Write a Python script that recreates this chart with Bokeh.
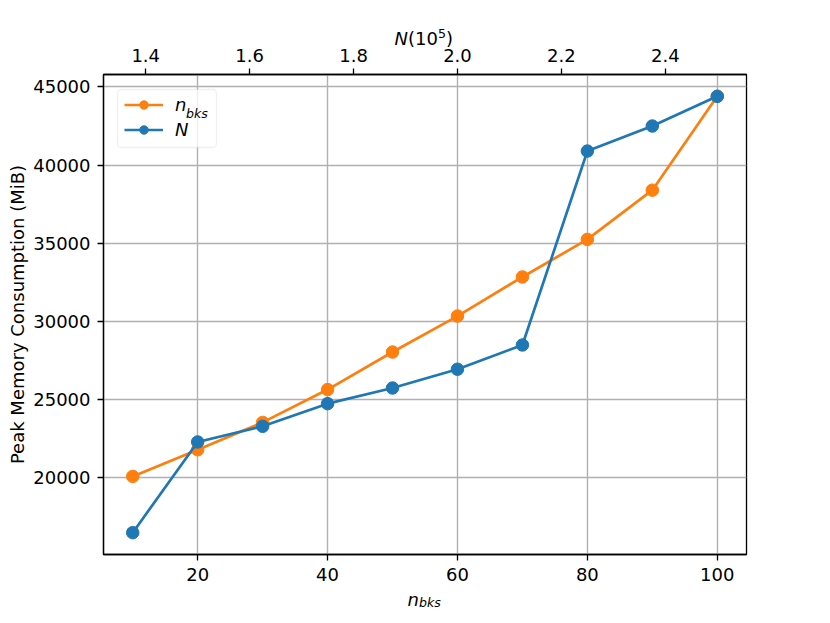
from bokeh.plotting import figure
from bokeh.models import Range1d, LinearAxis, FixedTicker, Label, BoxAnnotation
from bokeh.embed import file_html
from bokeh.resources import INLINE

# ---- data ----
n_bks = [10, 20, 30, 40, 50, 60, 70, 80, 90, 100]
mem_nbks = [20100, 21800, 23550, 25650, 28050, 30350, 32850, 35250, 38400, 44400]
N_1e5 = [1.375, 1.5, 1.625, 1.75, 1.875, 2.0, 2.125, 2.25, 2.375, 2.5]
mem_N = [16500, 22300, 23300, 24750, 25750, 26950, 28500, 40900, 42500, 44400]

bottom_ticks = [20, 40, 60, 80, 100]
top_ticks = [1.4, 1.6, 1.8, 2.0, 2.2, 2.4]
top_tick_labels = ["1.4", "1.6", "1.8", "2.0", "2.2", "2.4"]
y_ticks = [20000, 25000, 30000, 35000, 40000, 45000]

ORANGE = "#ff7f0e"
BLUE = "#1f77b4"
FONT = "DejaVu Sans"


def padded(vals, frac=0.05):
    lo, hi = min(vals), max(vals)
    d = (hi - lo) * frac
    return lo - d, hi + d


x0, x1 = padded(n_bks)
t0, t1 = padded(N_1e5)
y0, y1 = padded(mem_nbks + mem_N)

p = figure(width=814, height=620,
           x_range=Range1d(x0, x1), y_range=Range1d(y0, y1),
           output_backend="svg", toolbar_location=None,
           min_border_left=103, min_border_right=68,
           min_border_top=74, min_border_bottom=66)
p.extra_x_ranges = {"top": Range1d(t0, t1)}

top_axis = LinearAxis(x_range_name="top", ticker=FixedTicker(ticks=top_ticks))
top_axis.major_label_overrides = {t: s for t, s in zip(top_ticks, top_tick_labels)}
p.add_layout(top_axis, "above")

bottom_axis = p.below[0]
left_axis = p.left[0]
bottom_axis.ticker = FixedTicker(ticks=bottom_ticks)
left_axis.ticker = FixedTicker(ticks=y_ticks)

for ax in [bottom_axis, left_axis, top_axis]:
    ax.major_label_text_font = FONT
    ax.major_label_text_font_size = "18px"
    ax.major_label_text_color = "black"
    ax.major_tick_out = 6
    ax.major_tick_in = 0
    ax.major_tick_line_width = 1.3
    ax.major_tick_line_color = "black"
    ax.minor_tick_line_color = None
    ax.axis_line_color = "black"
    ax.axis_line_width = 1.3
    ax.major_label_standoff = 7

left_axis.axis_label = "Peak Memory Consumption (MiB)"
left_axis.axis_label_text_font = FONT
left_axis.axis_label_text_font_size = "18px"
left_axis.axis_label_text_font_style = "normal"
left_axis.axis_label_text_color = "black"
left_axis.axis_label_standoff = 2

p.xgrid.grid_line_color = "#b0b0b0"
p.ygrid.grid_line_color = "#b0b0b0"
p.xgrid.grid_line_width = 1.4
p.ygrid.grid_line_width = 1.4

p.outline_line_color = "black"
p.outline_line_width = 1.3
p.background_fill_color = "white"
p.border_fill_color = "white"
p.border_fill_alpha = 0.0

p.line(n_bks, mem_nbks, color=ORANGE, line_width=2.7, legend_label="n")
p.scatter(n_bks, mem_nbks, size=12.5, color=ORANGE, legend_label="n")
p.line(N_1e5, mem_N, x_range_name="top", color=BLUE, line_width=2.7, legend_label="N")
p.scatter(N_1e5, mem_N, x_range_name="top", size=12.5, color=BLUE, legend_label="N")

lg = p.legend[0]
lg.location = (14, 407)
lg.label_text_font = FONT
lg.label_text_font_style = "italic"
lg.label_text_font_size = "18px"
lg.label_text_color = "black"
lg.glyph_width = 39
lg.glyph_height = 21
lg.label_height = 21
lg.label_width = 36
lg.label_standoff = 12
lg.padding = 6
lg.spacing = 4
lg.margin = 0
lg.border_line_color = "#ffffff"
lg.border_line_alpha = 0.01
lg.background_fill_alpha = 0.0

# legend frame (behind legend contents)
p.add_layout(BoxAnnotation(left=14, right=113, bottom=407, top=465,
                           left_units="screen", right_units="screen",
                           bottom_units="screen", top_units="screen",
                           fill_color="white", fill_alpha=0.8,
                           line_color="#cccccc", line_width=1.3,
                           border_radius=4))


def txt(dx, dy, text, size, style, place):
    # anchored at the frame's bottom-left corner, offset in pixels
    p.add_layout(Label(x=x0, y=y0, x_units="data", y_units="data",
                       x_offset=dx, y_offset=dy, text=text,
                       text_font=FONT, text_font_size=size, text_font_style=style,
                       text_baseline="alphabetic", text_align="left",
                       text_color="black"), place)


# legend subscript for n_bks
txt(82.5, 441, "bks", "12.6px", "italic", "center")
# bottom axis label n_bks
txt(304, -45, "n", "18px", "italic", "above")
txt(315.5, -47.5, "bks", "12.6px", "italic", "above")
# top axis label N(10^5)
txt(291, 516.3, "N", "18px", "italic", "right")
txt(304.5, 516.3, "(10", "18px", "normal", "right")
txt(334.4, 521.5, "5", "12.6px", "normal", "right")
txt(342.4, 516.3, ")", "18px", "normal", "right")

open("out.html", "w").write(file_html(p, INLINE))
